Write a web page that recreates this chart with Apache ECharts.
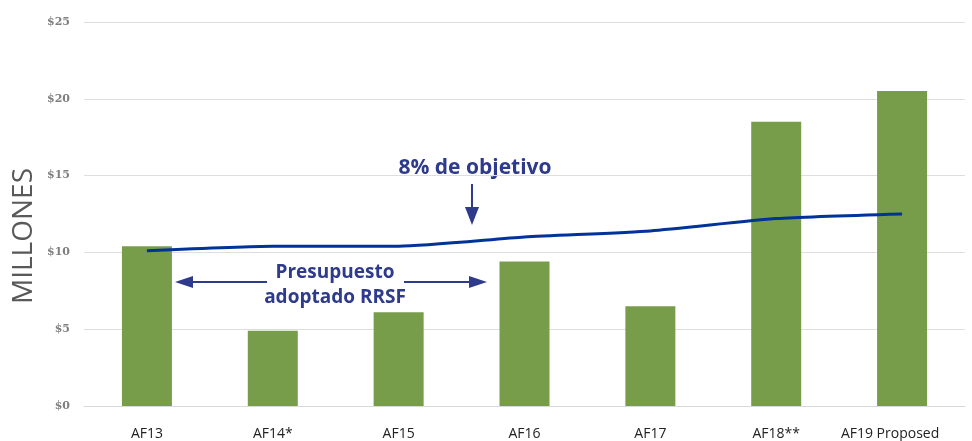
<!DOCTYPE html>
<html>
<head>
<meta charset="utf-8">
<script src="https://cdn.jsdelivr.net/npm/echarts@6/dist/echarts.min.js"></script>
<style>
  html, body { margin: 0; padding: 0; background: #fff; }
  #chart { width: 972px; height: 441px; }
</style>
</head>
<body>
<div id="chart"></div>
<script>
// 数据
var categories = ['AF13', 'AF14*', 'AF15', 'AF16', 'AF17', 'AF18**', 'AF19 Proposed'];
var budgetValues = [10.4, 4.9, 6.1, 9.4, 6.5, 18.5, 20.5];
var targetValues = [10.1, 10.4, 10.4, 11.0, 11.4, 12.2, 12.5];
var yTicks = [0, 5, 10, 15, 20, 25];

var annoColor = '#2E3A8C';

document.addEventListener("DOMContentLoaded", function () {
  var myChart = echarts.init(document.getElementById('chart'));

  // 最后一个标签稍微向左偏移
  var xData = categories.map(function (c, i) {
    if (i === categories.length - 1) {
      return { value: c, textStyle: { padding: [0, 24, 0, 0] } };
    }
    return c;
  });

  var option = {
    animation: false,
    grid: { left: 84, right: 7, top: 22, bottom: 34 },
    xAxis: {
      type: 'category',
      data: xData,
      axisLine: { lineStyle: { color: '#d9d9d9', width: 1 } },
      axisTick: { show: false },
      axisLabel: {
        color: '#222',
        fontSize: 14,
        fontFamily: 'Open Sans',
        margin: 21,
        interval: 0
      }
    },
    yAxis: {
      type: 'value',
      min: yTicks[0],
      max: yTicks[yTicks.length - 1],
      interval: 5,
      axisLine: { show: false },
      axisTick: { show: false },
      axisLabel: {
        formatter: '${value}',
        color: '#7f7f7f',
        fontSize: 11,
        fontWeight: 'bold',
        fontFamily: 'DejaVu Serif',
        margin: 14
      },
      splitLine: { lineStyle: { color: '#dedede', width: 1 } }
    },
    series: [
      {
        type: 'bar',
        data: budgetValues,
        barWidth: 50,
        itemStyle: { color: '#789D4A' }
      },
      {
        type: 'line',
        data: targetValues,
        smooth: 0.2,
        symbol: 'none',
        lineStyle: { color: '#003399', width: 3 }
      }
    ],
    graphic: [
      // 纵轴名称
      {
        type: 'text', x: 24, y: 236, rotation: Math.PI / 2,
        style: {
          text: 'MILLONES', fill: '#595959', align: 'center', verticalAlign: 'middle',
          font: '28px "Open Sans"'
        }
      },
      // 8% de objetivo
      {
        type: 'text', x: 475, y: 168,
        style: {
          text: '8% de objetivo', fill: annoColor, align: 'center', verticalAlign: 'middle',
          font: 'bold 21px "Open Sans"'
        }
      },
      { type: 'line', shape: { x1: 472, y1: 184, x2: 472, y2: 212 }, style: { stroke: annoColor, lineWidth: 2 } },
      { type: 'polygon', shape: { points: [[465, 207], [479, 207], [472, 225]] }, style: { fill: annoColor } },
      // Presupuesto adoptado RRSF
      {
        type: 'text', x: 335, y: 273,
        style: {
          text: 'Presupuesto', fill: annoColor, align: 'center', verticalAlign: 'middle',
          font: 'bold 19px "Open Sans"'
        }
      },
      {
        type: 'text', x: 335, y: 298,
        style: {
          text: 'adoptado RRSF', fill: annoColor, align: 'center', verticalAlign: 'middle',
          font: 'bold 19px "Open Sans"'
        }
      },
      { type: 'line', shape: { x1: 190, y1: 282, x2: 267, y2: 282 }, style: { stroke: annoColor, lineWidth: 2 } },
      { type: 'polygon', shape: { points: [[175, 282], [193, 276], [193, 288]] }, style: { fill: annoColor } },
      { type: 'line', shape: { x1: 404, y1: 282, x2: 472, y2: 282 }, style: { stroke: annoColor, lineWidth: 2 } },
      { type: 'polygon', shape: { points: [[487, 282], [469, 276], [469, 288]] }, style: { fill: annoColor } }
    ]
  };

  myChart.setOption(option);
});
</script>
</body>
</html>
